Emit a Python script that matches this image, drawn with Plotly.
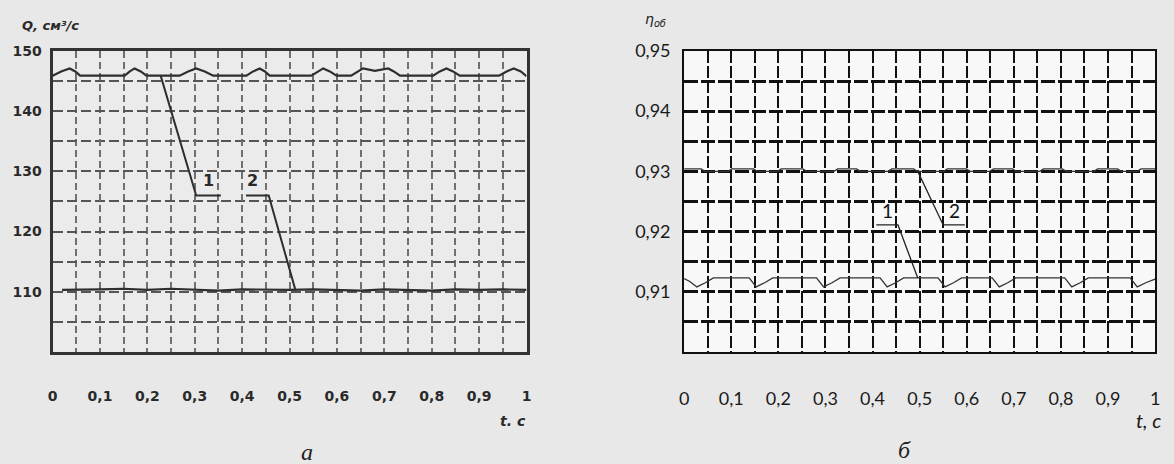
import plotly.graph_objects as go

# ---------------- data ----------------
# Left chart (a): Q, cm^3/s vs t, s
t_q1 = [0.000, 0.018, 0.036, 0.048, 0.058,
        0.152, 0.163, 0.173, 0.186, 0.198,
        0.268, 0.286, 0.303, 0.321, 0.339,
        0.409, 0.423, 0.437, 0.448, 0.458,
        0.546, 0.559, 0.571, 0.585, 0.599,
        0.630, 0.643, 0.655, 0.680, 0.708, 0.720, 0.733,
        0.803, 0.817, 0.831, 0.845, 0.859,
        0.942, 0.958, 0.973, 0.988, 1.000]
q1 = [145.9, 146.6, 147.1, 146.6, 145.9,
      145.9, 146.6, 147.1, 146.6, 145.9,
      145.9, 146.6, 147.1, 146.6, 145.9,
      145.9, 146.6, 147.1, 146.6, 145.9,
      145.9, 146.6, 147.1, 146.6, 145.9,
      145.9, 146.6, 147.1, 146.7, 147.1, 146.6, 145.9,
      145.9, 146.6, 147.1, 146.6, 145.9,
      145.9, 146.6, 147.1, 146.6, 145.8]

t_q2 = [0.02, 0.05, 0.10, 0.15, 0.20, 0.25, 0.30, 0.35, 0.40, 0.45, 0.50,
        0.55, 0.60, 0.65, 0.70, 0.75, 0.80, 0.85, 0.90, 0.95, 1.00]
q2 = [110.3, 110.3, 110.4, 110.5, 110.3, 110.5, 110.3, 110.2, 110.4, 110.3, 110.3,
      110.4, 110.3, 110.2, 110.4, 110.3, 110.2, 110.4, 110.3, 110.4, 110.3]

lead1_t = [0.228, 0.303, 0.355]
lead1_q = [145.9, 126.0, 126.0]
lead2_t = [0.408, 0.456, 0.512]
lead2_q = [126.0, 126.0, 110.4]

q_tickvals = [110, 120, 130, 140, 150]
q_ticktext = ["110", "120", "130", "140", "150"]

# Right chart (б): eta_ob vs t, s
t_eta2 = [0.000, 0.036, 0.044, 0.093, 0.101, 0.147, 0.155, 0.198, 0.206, 0.252,
          0.260, 0.318, 0.326, 0.366, 0.374, 0.433, 0.441, 0.487, 0.495, 0.551,
          0.559, 0.599, 0.607, 0.649, 0.657, 0.697, 0.705, 0.755, 0.763, 0.803,
          0.811, 0.870, 0.878, 0.920, 0.928, 0.962, 0.970, 1.000]
eta2 = [0.9304, 0.9304, 0.9300, 0.9300, 0.9304, 0.9304, 0.9300, 0.9300, 0.9304, 0.9304,
        0.9300, 0.9300, 0.9304, 0.9304, 0.9300, 0.9300, 0.9304, 0.9304, 0.9300, 0.9300,
        0.9304, 0.9304, 0.9300, 0.9300, 0.9304, 0.9304, 0.9300, 0.9300, 0.9304, 0.9304,
        0.9300, 0.9300, 0.9304, 0.9304, 0.9300, 0.9300, 0.9304, 0.9304]

t_eta1 = [0.000, 0.012, 0.027, 0.045, 0.062,
          0.138, 0.153, 0.171, 0.188,
          0.281, 0.296, 0.314, 0.331,
          0.416, 0.431, 0.449, 0.466,
          0.539, 0.554, 0.572, 0.589,
          0.654, 0.669, 0.687, 0.704,
          0.808, 0.823, 0.841, 0.858,
          0.947, 0.962, 0.980, 1.000]
eta1 = [0.9122, 0.9117, 0.9108, 0.9115, 0.9123,
        0.9123, 0.9108, 0.9115, 0.9123,
        0.9123, 0.9108, 0.9115, 0.9123,
        0.9123, 0.9108, 0.9115, 0.9123,
        0.9123, 0.9108, 0.9115, 0.9123,
        0.9123, 0.9108, 0.9115, 0.9123,
        0.9123, 0.9108, 0.9115, 0.9123,
        0.9123, 0.9108, 0.9115, 0.9121]

lead1r_t = [0.408, 0.454, 0.496]
lead1r_eta = [0.9211, 0.9211, 0.9123]
lead2r_t = [0.496, 0.550, 0.596]
lead2r_eta = [0.9300, 0.9211, 0.9211]

eta_tickvals = [0.91, 0.92, 0.93, 0.94, 0.95]
eta_ticktext = ["0,91", "0,92", "0,93", "0,94", "0,95"]

t_tickvals = [0, 0.1, 0.2, 0.3, 0.4, 0.5, 0.6, 0.7, 0.8, 0.9, 1.0]
t_ticktext = ["0", "0,1", "0,2", "0,3", "0,4", "0,5", "0,6", "0,7", "0,8", "0,9", "1"]

# ---------------- figure ----------------
W, H = 1174, 464
def px(x):
    return x / W
def py(y):
    return 1 - y / H

LEFT_C = "#2e2e2e"

fig = go.Figure()

for tx, ty in [(t_q1, q1), (t_q2, q2)]:
    fig.add_trace(go.Scatter(x=tx, y=ty, mode="lines", xaxis="x", yaxis="y",
                             line=dict(color=LEFT_C, width=2.2), showlegend=False,
                             hoverinfo="skip"))
for tx, ty in [(lead1_t, lead1_q), (lead2_t, lead2_q)]:
    fig.add_trace(go.Scatter(x=tx, y=ty, mode="lines", xaxis="x", yaxis="y",
                             line=dict(color=LEFT_C, width=2), showlegend=False,
                             hoverinfo="skip"))
for tx, ty in [(t_eta2, eta2), (t_eta1, eta1)]:
    fig.add_trace(go.Scatter(x=tx, y=ty, mode="lines", xaxis="x2", yaxis="y2",
                             line=dict(color="#333333", width=1.3), showlegend=False,
                             hoverinfo="skip"))
for tx, ty in [(lead1r_t, lead1r_eta), (lead2r_t, lead2r_eta)]:
    fig.add_trace(go.Scatter(x=tx, y=ty, mode="lines", xaxis="x2", yaxis="y2",
                             line=dict(color="#222222", width=1.3), showlegend=False,
                             hoverinfo="skip"))

left_font = dict(family="DejaVu Sans", size=14, color="#2a2a2a", weight="bold")
right_font = dict(family="Lato", size=18, color="#1a1a1a")

xl = [48, 526]
xr = [685, 1160]
ytop, ybot = 40, 349

common_x = dict(range=[0, 1], tickmode="array", tickvals=t_tickvals, ticktext=t_ticktext,
                showgrid=True, zeroline=False, ticks="", showline=True, mirror=True,
                ticklabelstandoff=29, fixedrange=True)

fig.update_layout(
    width=W, height=H,
    margin=dict(l=0, r=0, t=0, b=0),
    paper_bgcolor="#e8e8e8",
    plot_bgcolor="#ebebeb",
    separators=", ",
    xaxis=dict(domain=[px(xl[0]), px(xl[1])], anchor="y",
               gridcolor="#707070", griddash="7px,4px", gridwidth=2,
               minor=dict(tickmode="linear", tick0=0, dtick=0.05, showgrid=True,
                          gridcolor="#707070", griddash="7px,4px", gridwidth=2),
               linecolor="#333333", linewidth=3, tickfont=left_font, **common_x),
    yaxis=dict(domain=[py(ybot), py(ytop)], anchor="x", range=[100, 150],
               tickmode="array", tickvals=q_tickvals, ticktext=q_ticktext,
               showgrid=True, gridcolor="#555555", griddash="10px,4px", gridwidth=2,
               minor=dict(tickmode="linear", tick0=100, dtick=5, showgrid=True,
                          gridcolor="#555555", griddash="10px,4px", gridwidth=2),
               zeroline=False, ticks="", showline=True, mirror=True,
               linecolor="#333333", linewidth=3, tickfont=left_font,
               ticklabelstandoff=5, fixedrange=True),
    xaxis2=dict(domain=[px(xr[0]), px(xr[1])], anchor="y2",
                gridcolor="#111111", griddash="12px,3px", gridwidth=2.2,
                minor=dict(tickmode="linear", tick0=0, dtick=0.05, showgrid=True,
                           gridcolor="#111111", griddash="12px,3px", gridwidth=2.2),
                linecolor="#111111", linewidth=2, tickfont=right_font, **common_x),
    yaxis2=dict(domain=[py(ybot), py(ytop)], anchor="x2", range=[0.90, 0.95],
                tickmode="array", tickvals=eta_tickvals, ticktext=eta_ticktext,
                showgrid=True, gridcolor="#111111", griddash="14px,3px", gridwidth=2.5,
                minor=dict(tickmode="linear", tick0=0.90, dtick=0.005, showgrid=True,
                           gridcolor="#111111", griddash="14px,3px", gridwidth=2.5),
                zeroline=False, ticks="", showline=True, mirror=True,
                linecolor="#111111", linewidth=2, tickfont=right_font,
                ticklabelstandoff=8, fixedrange=True),
    shapes=[dict(type="rect", xref="x2 domain", yref="y2 domain", x0=0, x1=1, y0=0, y1=1,
                 fillcolor="#f8f8f8", line=dict(width=0), layer="below")],
    annotations=[
        dict(text="Q, см³/с", x=px(15), y=py(14), xref="paper", yref="paper",
             xanchor="left", yanchor="middle", showarrow=False,
             font=dict(family="DejaVu Sans", size=13, color="#2a2a2a", weight="bold",
                       style="italic")),
        dict(text="t. c", x=px(527), y=py(420), xref="paper", yref="paper",
             xanchor="right", yanchor="middle", showarrow=False,
             font=dict(family="DejaVu Sans", size=14, color="#2a2a2a", weight="bold",
                       style="italic")),
        dict(text="а", x=px(305), y=py(452), xref="paper", yref="paper",
             xanchor="center", yanchor="middle", showarrow=False,
             font=dict(family="Liberation Serif", size=24, color="#222222",
                       style="italic")),
        dict(text="1", x=0.330, y=126.6, xref="x", yref="y", xanchor="center",
             yanchor="bottom", showarrow=False,
             font=dict(family="DejaVu Sans", size=16, color="#2a2a2a", weight="bold")),
        dict(text="2", x=0.422, y=126.6, xref="x", yref="y", xanchor="center",
             yanchor="bottom", showarrow=False,
             font=dict(family="DejaVu Sans", size=16, color="#2a2a2a", weight="bold")),
        dict(text="η<sub>об</sub>", x=px(643), y=py(8), xref="paper", yref="paper",
             xanchor="left", yanchor="middle", showarrow=False,
             font=dict(family="DejaVu Sans", size=14, color="#222222", style="italic")),
        dict(text="t, c", x=px(1168), y=py(419), xref="paper", yref="paper",
             xanchor="right", yanchor="middle", showarrow=False,
             font=dict(family="Lato", size=20, color="#1a1a1a", style="italic")),
        dict(text="б", x=px(907), y=py(450), xref="paper", yref="paper",
             xanchor="center", yanchor="middle", showarrow=False,
             font=dict(family="Liberation Serif", size=24, color="#222222",
                       style="italic")),
        dict(text="1", x=0.431, y=0.9213, xref="x2", yref="y2", xanchor="center",
             yanchor="bottom", showarrow=False,
             font=dict(family="Lato", size=19, color="#111111")),
        dict(text="2", x=0.573, y=0.9213, xref="x2", yref="y2", xanchor="center",
             yanchor="bottom", showarrow=False,
             font=dict(family="Lato", size=19, color="#111111")),
    ],
)

fig.write_html("out.html", config={"displayModeBar": False},
               post_script="document.body.style.margin='0px';")
